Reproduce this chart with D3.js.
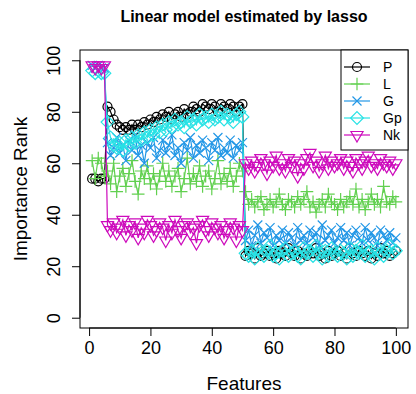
<!DOCTYPE html>
<meta charset="utf-8">
<style>
body { margin: 0; background: #fff; }
svg { display: block; font-family: "Liberation Sans", Arial, sans-serif; }
.axis path, .axis line { stroke: #000; }
</style>
<body>
<script src="https://cdn.jsdelivr.net/npm/d3@7"></script>
<script>

// ---- data ----
var seriesNames = ["P", "L", "G", "Gp", "Nk"];
var seriesColors = ["#000000", "#61D04F", "#2297E6", "#28E2E5", "#CD0BBC"];
var seriesShapes = ["circle", "plus", "cross", "diamond", "triangleDown"];

var P = [54, 54, 53, 54, 54,
  82, 80, 77, 75, 74, 73, 74, 73, 75, 73, 75, 74, 76, 75, 77, 76, 78, 77, 79, 78,
  80, 77, 79, 80, 78, 81, 79, 80, 82, 81, 80, 83, 82, 81, 83, 82, 80, 83, 82, 81,
  83, 82, 80, 82, 83,
  24, 26, 25, 23, 27, 24, 25, 26, 24, 25, 23, 26, 25, 24, 27, 25, 24, 26, 23, 25,
  24, 26, 25, 27, 24, 25, 23, 26, 24, 25, 26, 24, 25, 23, 27, 25, 24, 26, 25, 24,
  26, 23, 25, 24, 27, 25, 26, 24, 25, 26];
var L = [61, 54, 62, 60, 55,
  57, 52, 60, 49, 55, 58, 51, 56, 61, 53, 48, 57, 54, 59, 52, 56, 50, 55, 60, 53,
  57, 51, 55, 58, 49, 54, 62, 52, 56, 53, 59, 51, 55, 57, 50, 54, 61, 52, 56, 53,
  58, 51, 55, 60, 57,
  49, 44, 46, 43, 45, 47, 42, 44, 46, 43, 45, 48, 44, 42, 46, 45, 43, 47, 44, 46,
  49, 43, 45, 41, 44, 46, 43, 48, 45, 44, 42, 46, 43, 45, 47, 44, 50, 43, 46, 42,
  45, 48, 44, 46, 43, 51, 45, 44, 47, 45];
var G = [98, 97, 98, 97, 97,
  68, 63, 66, 70, 64, 67, 61, 69, 65, 71, 63, 67, 60, 68, 66, 70, 62, 65, 69, 64,
  67, 71, 63, 66, 60, 68, 65, 70, 62, 67, 64, 69, 66, 61, 68, 65, 70, 63, 66, 64,
  69, 62, 67, 65, 68,
  30, 34, 28, 32, 36, 29, 33, 31, 35, 28, 32, 30, 34, 29, 33, 31, 28, 35, 30, 32,
  29, 34, 31, 33, 28, 36, 30, 32, 34, 29, 31, 35, 30, 33, 28, 32, 34, 31, 29, 35,
  30, 33, 31, 28, 34, 32, 30, 33, 29, 31];
var Gp = [96, 95, 96, 95, 95,
  76, 70, 67, 66, 68, 65, 69, 67, 70, 68, 71, 69, 72, 70, 73, 71, 74, 72, 75, 73,
  76, 74, 77, 75, 76, 74, 78, 76, 77, 75, 79, 77, 78, 76, 79, 77, 78, 80, 77, 79,
  78, 76, 79, 80, 78,
  25, 24, 26, 23, 27, 25, 24, 26, 28, 24, 25, 23, 26, 27, 24, 25, 26, 24, 23, 27,
  25, 26, 24, 28, 25, 23, 26, 24, 27, 25, 24, 26, 25, 23, 27, 24, 26, 25, 28, 24,
  25, 26, 23, 27, 25, 24, 26, 28, 25, 26];
var Nk = [98, 97, 98, 97, 98,
  36, 34, 37, 33, 35, 38, 32, 36, 34, 37, 31, 35, 33, 38, 36, 32, 34, 37, 35, 30,
  36, 33, 38, 34, 31, 36, 37, 33, 35, 29, 36, 38, 34, 32, 37, 35, 33, 36, 31, 34,
  37, 35, 30, 36, 34,
  60, 58, 61, 57, 59, 62, 60, 56, 61, 59, 63, 58, 60, 57, 62, 59, 61, 55, 60, 58,
  62, 64, 59, 61, 57, 60, 63, 58, 61, 59, 60, 62, 58, 61, 59, 57, 62, 60, 58, 61,
  63, 59, 60, 58, 62, 60, 59, 61, 58, 60];

var xTicks = [0, 20, 40, 60, 80, 100];
var yTicks = [0, 20, 40, 60, 80, 100];

var allSeries = [P, L, G, Gp, Nk];

// ---- layout ----
var width = 416, height = 394;
var plot = {left: 80, right: 408, top: 50, bottom: 328};

// R pads the range by 4% on each side
var x = d3.scaleLinear().domain([1 - 3.96, 100 + 3.96]).range([plot.left, plot.right]);
var y = d3.scaleLinear().domain([-4, 104]).range([plot.bottom, plot.top]);

var svg = d3.select("body").append("svg")
    .attr("width", width)
    .attr("height", height);

// marker shapes, like R's pch 1, 3, 4, 5, 6
function shapePath(kind) {
  var r = 4.5;
  if (kind == "circle") {
    return "M" + (-r) + ",0A" + r + "," + r + " 0 1,0 " + r + ",0A" + r + "," + r + " 0 1,0 " + (-r) + ",0";
  }
  if (kind == "plus") {
    var s = r * Math.SQRT2;
    return "M" + (-s) + ",0H" + s + "M0," + (-s) + "V" + s;
  }
  if (kind == "cross") {
    return "M" + (-r) + "," + (-r) + "L" + r + "," + r + "M" + (-r) + "," + r + "L" + r + "," + (-r);
  }
  if (kind == "diamond") {
    var d = r * Math.SQRT2;
    return "M0," + (-d) + "L" + d + ",0L0," + d + "L" + (-d) + ",0Z";
  }
  // triangle pointing down
  var a = 1.5551 * r;
  return "M0," + a + "L" + (a * 0.866) + "," + (-a / 2) + "L" + (-a * 0.866) + "," + (-a / 2) + "Z";
}

var line = d3.line()
    .x(function(d, i) { return x(i + 1); })
    .y(function(d) { return y(d); });

// draw each series: lines then points
allSeries.forEach(function(values, k) {
  var g = svg.append("g");
  g.append("path")
      .datum(values)
      .attr("fill", "none")
      .attr("stroke", seriesColors[k])
      .attr("stroke-width", 1.2)
      .attr("d", line);
  g.selectAll("path.pt")
      .data(values)
      .enter()
      .append("path")
      .attr("class", "pt")
      .attr("transform", function(d, i) { return "translate(" + x(i + 1) + "," + y(d) + ")"; })
      .attr("d", shapePath(seriesShapes[k]))
      .attr("fill", "none")
      .attr("stroke", seriesColors[k])
      .attr("stroke-width", 1.2);
});

// plot box
svg.append("rect")
    .attr("x", plot.left)
    .attr("y", plot.top)
    .attr("width", plot.right - plot.left)
    .attr("height", plot.bottom - plot.top)
    .attr("fill", "none")
    .attr("stroke", "#000")
    .attr("stroke-width", 1);

// x axis
var xAxis = svg.append("g")
    .attr("class", "axis")
    .attr("transform", "translate(0," + plot.bottom + ")")
    .call(d3.axisBottom(x).tickValues(xTicks).tickSize(8).tickPadding(5).tickSizeOuter(0));
xAxis.select(".domain").attr("d", "M" + x(0) + ",0H" + x(100));
xAxis.selectAll("text").style("font-size", "18px").attr("fill", "#000");

// y axis, labels turned like R's las = 0
var yAxis = svg.append("g")
    .attr("class", "axis")
    .attr("transform", "translate(" + plot.left + ",0)")
    .call(d3.axisLeft(y).tickValues(yTicks).tickSize(8).tickSizeOuter(0));
yAxis.select(".domain").attr("d", "M0," + y(0) + "V" + y(100));
yAxis.selectAll("text")
    .attr("x", 0).attr("y", 0).attr("dy", null)
    .attr("text-anchor", "middle")
    .attr("transform", "translate(-20,0) rotate(-90)")
    .style("font-size", "18px")
    .attr("fill", "#000");

// title and axis titles
svg.append("text")
    .attr("x", (plot.left + plot.right) / 2)
    .attr("y", 22)
    .attr("text-anchor", "middle")
    .style("font-size", "16px")
    .style("font-weight", "bold")
    .text("Linear model estimated by lasso");

svg.append("text")
    .attr("x", (plot.left + plot.right) / 2)
    .attr("y", 390)
    .attr("text-anchor", "middle")
    .style("font-size", "19px")
    .text("Features");

svg.append("text")
    .attr("transform", "translate(27," + ((plot.top + plot.bottom) / 2) + ") rotate(-90)")
    .attr("text-anchor", "middle")
    .style("font-size", "19px")
    .text("Importance Rank");

// legend in the top right corner
var legend = svg.append("g");
legend.append("rect")
    .attr("x", 341)
    .attr("y", plot.top)
    .attr("width", plot.right - 341)
    .attr("height", 100)
    .attr("fill", "#fff")
    .attr("stroke", "#000");

var items = legend.selectAll("g.item")
    .data(seriesNames)
    .enter()
    .append("g")
    .attr("transform", function(d, i) { return "translate(0," + (67 + i * 17) + ")"; });
items.append("line")
    .attr("x1", 344).attr("x2", 370)
    .attr("stroke", function(d, i) { return seriesColors[i]; })
    .attr("stroke-width", 1.2);
items.append("path")
    .attr("transform", "translate(357,0)")
    .attr("d", function(d, i) { return shapePath(seriesShapes[i]); })
    .attr("fill", "none")
    .attr("stroke", function(d, i) { return seriesColors[i]; })
    .attr("stroke-width", 1.2);
items.append("text")
    .attr("x", 383)
    .attr("dy", "0.35em")
    .style("font-size", "14px")
    .text(function(d) { return d; });

</script>
</body>
